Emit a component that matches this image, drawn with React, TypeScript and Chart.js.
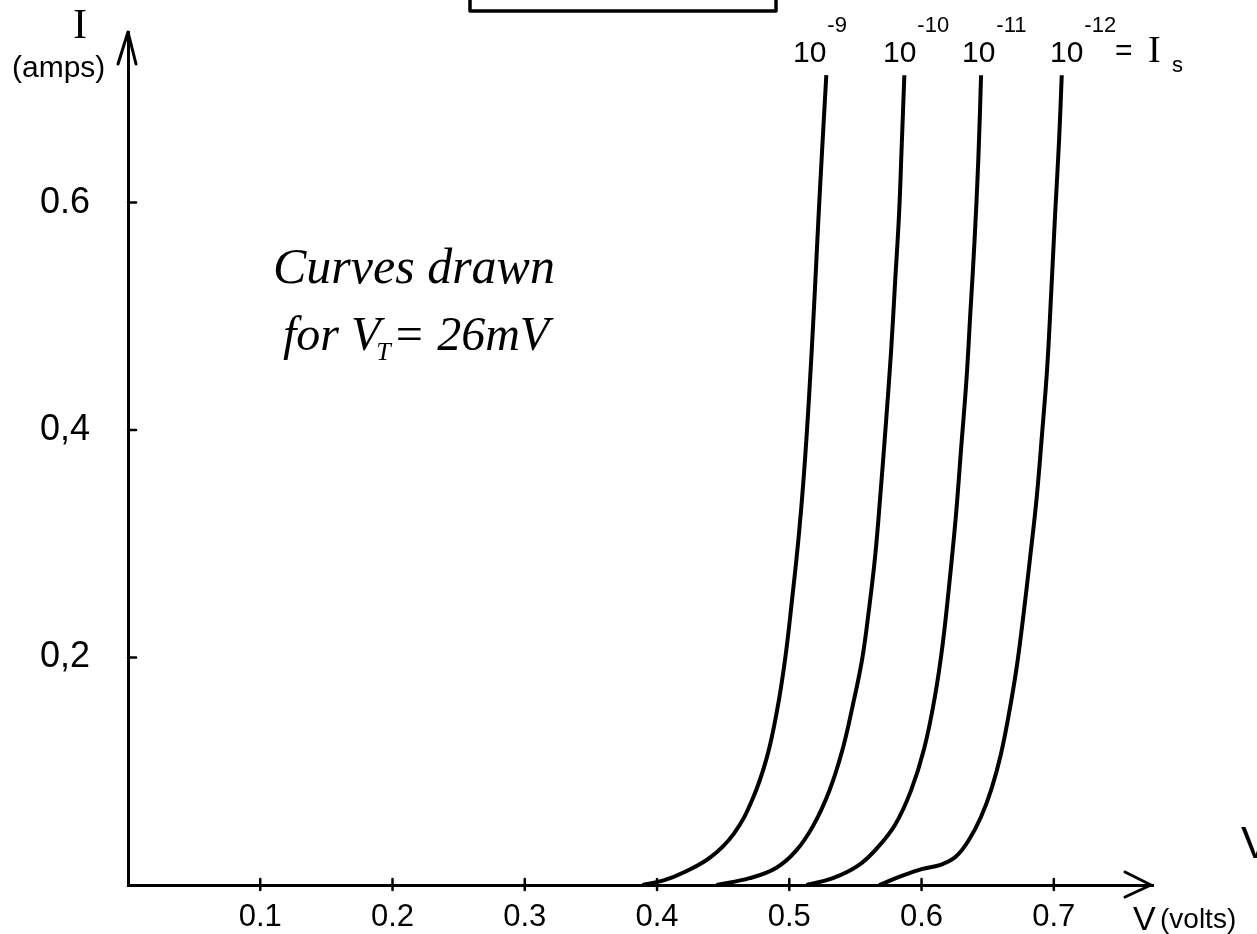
import React, { useEffect, useRef } from "react";
import { Chart, registerables } from "chart.js";

Chart.register(...registerables);

// ---- axis ticks ----
const xTickValues = [0.1, 0.2, 0.3, 0.4, 0.5, 0.6, 0.7];
const xTickLabels = ["0.1", "0.2", "0.3", "0.4", "0.5", "0.6", "0.7"];
const yTickValues = [0.2, 0.4, 0.6];
const yTickLabels = ["0,2", "0,4", "0.6"];

// ---- series (I_s = 10^-9 ... 10^-12) ----
const seriesExponents = ["-9", "-10", "-11", "-12"];

const volts9 = [0.389, 0.405, 0.42, 0.44, 0.458, 0.472, 0.483, 0.491, 0.497, 0.502, 0.507, 0.511, 0.515, 0.519, 0.522, 0.525, 0.528];
const amps9 = [0, 0.004, 0.011, 0.024, 0.045, 0.075, 0.112, 0.155, 0.2, 0.25, 0.305, 0.36, 0.43, 0.515, 0.585, 0.65, 0.712];

const volts10 = [0.445, 0.47, 0.49, 0.505, 0.518, 0.53, 0.54, 0.548, 0.555, 0.56, 0.565, 0.569, 0.573, 0.577, 0.58, 0.583, 0.585, 0.587];
const amps10 = [0, 0.006, 0.015, 0.03, 0.052, 0.082, 0.118, 0.158, 0.198, 0.24, 0.29, 0.345, 0.405, 0.47, 0.53, 0.59, 0.65, 0.712];

const volts11 = [0.513, 0.533, 0.552, 0.566, 0.58, 0.592, 0.602, 0.61, 0.616, 0.621, 0.626, 0.63, 0.634, 0.637, 0.64, 0.643, 0.645];
const amps11 = [0, 0.006, 0.017, 0.032, 0.053, 0.083, 0.12, 0.165, 0.212, 0.265, 0.325, 0.385, 0.445, 0.505, 0.565, 0.64, 0.712];

const volts12 = [0.568, 0.585, 0.6, 0.615, 0.626, 0.636, 0.645, 0.653, 0.66, 0.666, 0.672, 0.677, 0.682, 0.687, 0.691, 0.695, 0.698, 0.701, 0.704, 0.706];
const amps12 = [0, 0.008, 0.014, 0.018, 0.025, 0.04, 0.06, 0.085, 0.115, 0.15, 0.192, 0.237, 0.287, 0.34, 0.395, 0.455, 0.52, 0.59, 0.655, 0.712];

const seriesVolts = [volts9, volts10, volts11, volts12];
const seriesAmps = [amps9, amps10, amps11, amps12];

const SANS = "'Liberation Sans', Arial, sans-serif";
const SERIF = "'Liberation Serif', 'Times New Roman', serif";

const lookup = (vals: number[], labels: string[]) => (v: any) => {
  const i = vals.findIndex((t) => Math.abs(t - Number(v)) < 1e-9);
  return i >= 0 ? labels[i] : "";
};

const decorPlugin = {
  id: "decor",
  afterDraw(chart: any) {
    const { ctx } = chart;
    const xs = chart.scales.x;
    const ys = chart.scales.y;
    const x0 = xs.getPixelForValue(0);
    const y0 = ys.getPixelForValue(0);
    ctx.save();
    ctx.strokeStyle = "#000";
    ctx.fillStyle = "#000";
    ctx.lineCap = "round";
    ctx.lineJoin = "round";

    // tick marks
    ctx.lineWidth = 2.5;
    xTickValues.forEach((v) => {
      const px = xs.getPixelForValue(v);
      ctx.beginPath();
      ctx.moveTo(px, y0 - 6);
      ctx.lineTo(px, y0 + 5);
      ctx.stroke();
    });
    yTickValues.forEach((v) => {
      const py = ys.getPixelForValue(v);
      ctx.beginPath();
      ctx.moveTo(x0, py);
      ctx.lineTo(x0 + 8, py);
      ctx.stroke();
    });

    // arrows
    ctx.lineWidth = 3;
    const yTop = ys.getPixelForValue(ys.max);
    ctx.beginPath();
    ctx.moveTo(x0 - 10, yTop + 32);
    ctx.lineTo(x0, yTop);
    ctx.lineTo(x0 + 8, yTop + 32);
    ctx.stroke();
    const xTip = xs.getPixelForValue(xs.max) - 2;
    ctx.beginPath();
    ctx.moveTo(xTip - 26, y0 - 13);
    ctx.lineTo(xTip, y0);
    ctx.lineTo(xTip - 26, y0 + 12);
    ctx.stroke();

    // partial box at the top edge
    ctx.lineWidth = 3.5;
    ctx.beginPath();
    ctx.moveTo(470, 0);
    ctx.lineTo(470, 11);
    ctx.lineTo(776, 11);
    ctx.lineTo(776, 0);
    ctx.stroke();

    ctx.textBaseline = "alphabetic";
    ctx.textAlign = "left";

    // axis titles
    ctx.font = `42px ${SERIF}`;
    ctx.textAlign = "center";
    ctx.fillText("I", 80, 38);
    ctx.textAlign = "left";
    ctx.font = `30px ${SANS}`;
    ctx.fillText("(amps)", 12, 77);
    ctx.font = `34px ${SANS}`;
    ctx.fillText("V", 1133, 930);
    ctx.font = `28px ${SANS}`;
    ctx.fillText("(volts)", 1160, 928);

    // series labels
    const tenLefts = [793, 883, 962, 1050];
    seriesExponents.forEach((e, i) => {
      ctx.font = `30px ${SANS}`;
      ctx.fillText("10", tenLefts[i], 62);
      const w = ctx.measureText("10").width;
      ctx.font = `22px ${SANS}`;
      ctx.fillText(e, tenLefts[i] + w + 1, 32);
    });
    ctx.font = `30px ${SANS}`;
    ctx.fillText("=", 1115, 60);
    ctx.font = `38px ${SERIF}`;
    ctx.fillText("I", 1148, 62);
    ctx.font = `22px ${SANS}`;
    ctx.fillText("s", 1172, 72);

    // annotation
    ctx.font = `italic 50px ${SERIF}`;
    ctx.fillText("Curves drawn", 273, 283);
    let cx = 283;
    ctx.font = `italic 48px ${SERIF}`;
    ctx.fillText("for ", cx, 350);
    cx += ctx.measureText("for ").width;
    ctx.fillText("V", cx, 350);
    cx += ctx.measureText("V").width - 4;
    ctx.font = `italic 26px ${SERIF}`;
    ctx.fillText("T", cx, 360);
    cx += ctx.measureText("T").width + 2;
    ctx.font = `italic 48px ${SERIF}`;
    ctx.fillText("= 26mV", cx, 350);

    // clipped glyph at the right edge
    ctx.font = `44px ${SANS}`;
    ctx.fillText("V", 1241, 858);

    ctx.restore();
  },
};

export default function App() {
  const ref = useRef<HTMLCanvasElement | null>(null);

  useEffect(() => {
    if (!ref.current) return;
    const datasets = seriesExponents.map((e, i) => ({
      label: "I_s = 10^" + e,
      data: seriesVolts[i].map((v, j) => ({ x: v, y: seriesAmps[i][j] })),
      borderColor: "#000",
      borderWidth: 4,
      pointRadius: 0,
      fill: false,
      tension: 0.4,
    }));
    const chart = new Chart(ref.current, {
      type: "line",
      data: { datasets },
      options: {
        animation: false,
        responsive: false,
        devicePixelRatio: 1,
        layout: { padding: { left: 40, right: 104, top: 32, bottom: 0 } },
        plugins: { legend: { display: false }, tooltip: { enabled: false } },
        scales: {
          x: {
            type: "linear",
            min: 0,
            max: 0.775,
            afterBuildTicks: (axis: any) => {
              axis.ticks = xTickValues.map((value) => ({ value }));
            },
            afterFit: (s: any) => {
              s.height = 49;
            },
            grid: { display: false },
            border: { display: true, color: "#000", width: 3 },
            ticks: {
              callback: lookup(xTickValues, xTickLabels),
              color: "#000",
              font: { family: SANS, size: 31 },
              padding: 6,
              maxRotation: 0,
              autoSkip: false,
            },
          },
          y: {
            type: "linear",
            min: 0,
            max: 0.75,
            afterBuildTicks: (axis: any) => {
              axis.ticks = yTickValues.map((value) => ({ value }));
            },
            afterFit: (s: any) => {
              s.width = 88;
            },
            grid: { display: false },
            border: { display: true, color: "#000", width: 3 },
            ticks: {
              callback: lookup(yTickValues, yTickLabels),
              color: "#000",
              font: { family: SANS, size: 36 },
              crossAlign: "far",
              autoSkip: false,
            },
          },
        },
      },
      plugins: [decorPlugin],
    });
    return () => chart.destroy();
  }, []);

  return (
    <div style={{ position: "absolute", left: 0, top: 0, width: 1257, height: 934, background: "#fff" }}>
      <canvas ref={ref} width={1257} height={934} />
    </div>
  );
}
